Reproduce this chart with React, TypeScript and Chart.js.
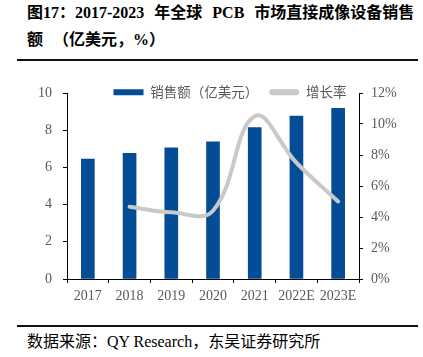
import React, { useEffect, useRef } from "react";
import { Chart, registerables } from "chart.js";

Chart.register(...registerables);

const categories = ["2017", "2018", "2019", "2020", "2021", "2022E", "2023E"];
const salesValues = [6.45, 6.75, 7.05, 7.37, 8.14, 8.76, 9.18];
const growthValues: (number | null)[] = [null, 4.66, 4.3, 4.4, 10.5, 7.5, 5.0];
const leftTicks = [0, 2, 4, 6, 8, 10];
const rightTicks = [0, 2, 4, 6, 8, 10, 12];
const salesLabel = "销售额（亿美元）";
const growthLabel = "增长率";
const titleLine1 = "图17：2017-2023 年全球 PCB 市场直接成像设备销售";
const titleLine2 = "额 （亿美元，%）";
const sourceText = "数据来源：QY Research，东吴证券研究所";

const BAR_COLOR = "#034D97";
const LINE_COLOR = "#C9C9C9";
const TICK_COLOR = "#595959";
const TICK_FONT = { family: '"Liberation Serif", "Times New Roman", serif', size: 14 };

export default function App() {
  const ref = useRef<HTMLCanvasElement | null>(null);

  useEffect(() => {
    if (!ref.current) return;
    const legendFit = {
      id: "legendFit",
      beforeLayout(chart: any) {
        const lg = chart.legend;
        if (lg && !lg._patched) {
          const orig = lg.fit.bind(lg);
          lg.fit = function () {
            orig();
            this.height = 18.5;
          };
          lg._patched = true;
        }
      },
      afterLayout(chart: any) {
        const lg = chart.legend;
        if (lg) {
          lg.bottom += 14;
          lg.height += 14;
        }
      },
    };
    const chart = new Chart(ref.current, {
      type: "bar",
      data: {
        labels: categories,
        datasets: [
          {
            type: "bar",
            label: salesLabel,
            data: salesValues,
            backgroundColor: BAR_COLOR,
            barThickness: 13,
            yAxisID: "y",
            order: 1,
          },
          {
            type: "line",
            label: growthLabel,
            data: growthValues,
            borderColor: LINE_COLOR,
            backgroundColor: LINE_COLOR,
            borderWidth: 4,
            pointRadius: 0,
            tension: 0.4,
            borderCapStyle: "round",
            yAxisID: "y1",
            order: 0,
          } as any,
        ],
      },
      options: {
        responsive: false,
        animation: false,
        layout: { padding: { left: 37, right: 0, top: 12.5, bottom: 0 } },
        plugins: {
          tooltip: { enabled: false },
          legend: {
            position: "top",
            labels: {
              boxWidth: 30,
              boxHeight: 6,
              padding: 11,
              color: TICK_COLOR,
              useBorderRadius: true,
              font: { family: '"Noto Sans CJK SC", sans-serif', size: 13.5 },
              generateLabels: () => [
                {
                  text: salesLabel,
                  fillStyle: BAR_COLOR,
                  strokeStyle: BAR_COLOR,
                  lineWidth: 0,
                  hidden: false,
                  datasetIndex: 0,
                  borderRadius: 0,
                  fontColor: TICK_COLOR,
                } as any,
                {
                  text: growthLabel,
                  fillStyle: LINE_COLOR,
                  strokeStyle: LINE_COLOR,
                  lineWidth: 0,
                  hidden: false,
                  datasetIndex: 1,
                  borderRadius: 3,
                  fontColor: TICK_COLOR,
                } as any,
              ],
            },
          },
        },
        scales: {
          x: {
            offset: true,
            border: { color: "#000", width: 1 },
            grid: { drawOnChartArea: false, drawTicks: true, tickLength: 4, color: "#000", offset: true },
            ticks: { color: TICK_COLOR, font: TICK_FONT, padding: 5, maxRotation: 0, autoSkip: false },
            afterFit: (s: any) => {
              s.height = 33;
            },
          },
          y: {
            position: "left",
            min: 0,
            max: 10,
            afterBuildTicks: (s: any) => {
              s.ticks = leftTicks.map((v) => ({ value: v }));
            },
            border: { color: "#000", width: 1 },
            grid: { drawOnChartArea: false, drawTicks: true, tickLength: 4, color: "#000" },
            ticks: { color: TICK_COLOR, font: TICK_FONT, padding: 11 },
            afterFit: (s: any) => {
              s.width = 30;
            },
          },
          y1: {
            position: "right",
            min: 0,
            max: 12,
            afterBuildTicks: (s: any) => {
              s.ticks = rightTicks.map((v) => ({ value: v }));
            },
            border: { color: "#000", width: 1 },
            grid: { drawOnChartArea: false, drawTicks: true, tickLength: 4, color: "#000" },
            ticks: {
              color: TICK_COLOR,
              font: TICK_FONT,
              padding: 8,
              callback: (v: any) => v + "%",
            },
            afterFit: (s: any) => {
              s.width = 64;
            },
          },
        },
      },
      plugins: [legendFit],
    });
    return () => chart.destroy();
  }, []);

  const serif = '"Liberation Serif", "Times New Roman", "Noto Sans CJK SC", serif';

  return (
    <div style={{ position: "absolute", left: 0, top: 0, width: 423, height: 357, background: "#fff", overflow: "hidden" }}>
      <div
        style={{
          position: "absolute",
          left: 27,
          top: -1.5,
          fontFamily: serif,
          fontWeight: "bold",
          fontSize: 16,
          lineHeight: "27px",
          color: "#000",
          whiteSpace: "pre",
          wordSpacing: 6,
        }}
      >
        <div>{titleLine1}</div>
        <div>{titleLine2}</div>
      </div>
      <div style={{ position: "absolute", left: 17, top: 59, width: 401, height: 2, background: "#111" }} />
      <canvas
        ref={ref}
        width={423}
        height={250}
        style={{ position: "absolute", left: 0, top: 62, width: 423, height: 250 }}
      />
      <div style={{ position: "absolute", left: 17, top: 325, width: 401, height: 2, background: "#111" }} />
      <div
        style={{
          position: "absolute",
          left: 27,
          top: 332,
          fontFamily: serif,
          fontSize: 16,
          lineHeight: "20px",
          color: "#000",
          whiteSpace: "pre",
        }}
      >
        {sourceText}
      </div>
    </div>
  );
}
